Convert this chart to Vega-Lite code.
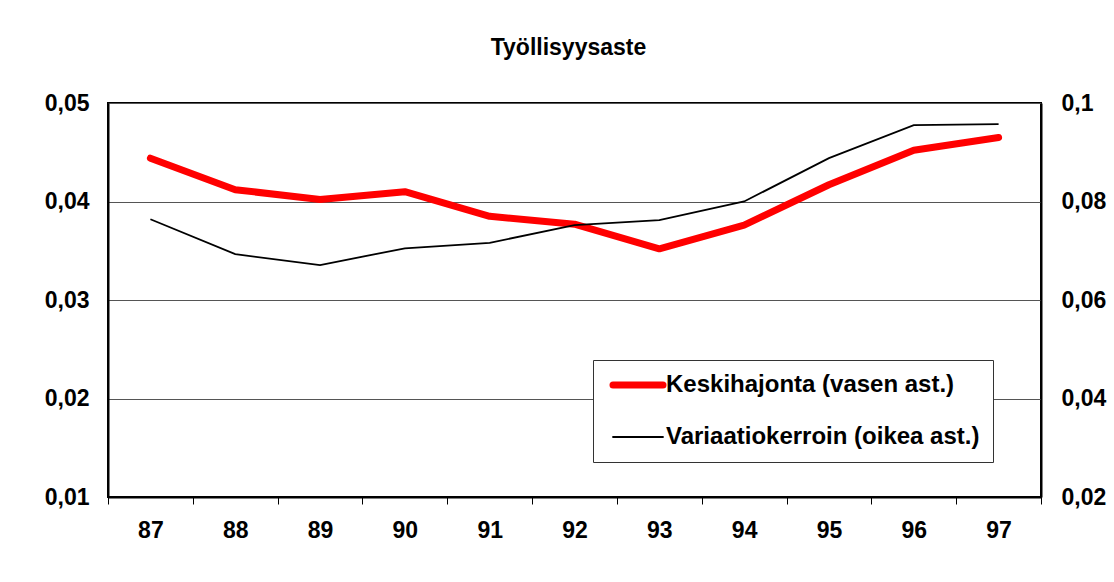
{
  "$schema": "https://vega.github.io/schema/vega-lite/v6.json",
  "width": 933,
  "height": 394,
  "autosize": {"type": "none"},
  "padding": {"left": 108, "top": 103, "right": 73, "bottom": 85},
  "background": "white",
  "title": {
    "text": "Työllisyysaste",
    "frame": "group",
    "anchor": "middle",
    "dx": -6,
    "offset": 14,
    "baseline": "alphabetic",
    "fontSize": 23,
    "font": "Liberation Sans",
    "fontWeight": "bold",
    "color": "black"
  },
  "data": {
    "values": [
      {"year": "87", "series": "Keskihajonta (vasen ast.)", "value": 0.0444},
      {"year": "88", "series": "Keskihajonta (vasen ast.)", "value": 0.0412},
      {"year": "89", "series": "Keskihajonta (vasen ast.)", "value": 0.0402},
      {"year": "90", "series": "Keskihajonta (vasen ast.)", "value": 0.0410},
      {"year": "91", "series": "Keskihajonta (vasen ast.)", "value": 0.0385},
      {"year": "92", "series": "Keskihajonta (vasen ast.)", "value": 0.0377},
      {"year": "93", "series": "Keskihajonta (vasen ast.)", "value": 0.0352},
      {"year": "94", "series": "Keskihajonta (vasen ast.)", "value": 0.0376},
      {"year": "95", "series": "Keskihajonta (vasen ast.)", "value": 0.0417},
      {"year": "96", "series": "Keskihajonta (vasen ast.)", "value": 0.0452},
      {"year": "97", "series": "Keskihajonta (vasen ast.)", "value": 0.0465},
      {"year": "87", "series": "Variaatiokerroin (oikea ast.)", "value": 0.0764},
      {"year": "88", "series": "Variaatiokerroin (oikea ast.)", "value": 0.0693},
      {"year": "89", "series": "Variaatiokerroin (oikea ast.)", "value": 0.0671},
      {"year": "90", "series": "Variaatiokerroin (oikea ast.)", "value": 0.0705},
      {"year": "91", "series": "Variaatiokerroin (oikea ast.)", "value": 0.0716},
      {"year": "92", "series": "Variaatiokerroin (oikea ast.)", "value": 0.0752},
      {"year": "93", "series": "Variaatiokerroin (oikea ast.)", "value": 0.0762},
      {"year": "94", "series": "Variaatiokerroin (oikea ast.)", "value": 0.0800},
      {"year": "95", "series": "Variaatiokerroin (oikea ast.)", "value": 0.0888},
      {"year": "96", "series": "Variaatiokerroin (oikea ast.)", "value": 0.0955},
      {"year": "97", "series": "Variaatiokerroin (oikea ast.)", "value": 0.0957}
    ]
  },
  "encoding": {
    "x": {
      "field": "year",
      "type": "ordinal",
      "bandPosition": 0.5,
      "scale": {"type": "band", "paddingInner": 0, "paddingOuter": 0},
      "axis": {
        "title": null,
        "labelAngle": 0,
        "grid": false,
        "tickBand": "extent",
        "ticks": true,
        "tickSize": 7,
        "tickColor": "black",
        "tickWidth": 1,
        "domainColor": "black",
        "domainWidth": 2,
        "labelFont": "Liberation Sans",
        "labelFontSize": 23,
        "labelFontWeight": "bold",
        "labelColor": "black",
        "labelPadding": 15
      }
    }
  },
  "layer": [
    {
      "transform": [{"filter": "datum.series === 'Keskihajonta (vasen ast.)'"}],
      "mark": {"type": "line", "strokeWidth": 7, "strokeCap": "round", "strokeJoin": "round"},
      "encoding": {
        "y": {
          "field": "value",
          "type": "quantitative",
          "scale": {"domain": [0.01, 0.05], "nice": false, "zero": false},
          "axis": {
            "orient": "left",
            "title": null,
            "values": [0.01, 0.02, 0.03, 0.04, 0.05],
            "labelExpr": "replace(format(datum.value, '.2~f'), '.', ',')",
            "grid": true,
            "gridColor": "#555555",
            "gridWidth": 1,
            "ticks": false,
            "tickSize": 0,
            "domainColor": "black",
            "domainWidth": 2,
            "labelFont": "Liberation Sans",
            "labelFontSize": 23,
            "labelFontWeight": "bold",
            "labelColor": "black",
            "labelPadding": 19
          }
        },
        "color": {
          "field": "series",
          "type": "nominal",
          "scale": {
            "domain": ["Keskihajonta (vasen ast.)", "Variaatiokerroin (oikea ast.)"],
            "range": ["#ff0000", "#000000"]
          },
          "legend": {
            "orient": "none",
            "legendX": 485,
            "legendY": 257,
            "title": null,
            "direction": "vertical",
            "symbolType": "stroke",
            "symbolSize": 2500,
            "symbolOffset": 20,
            "labelFont": "Liberation Sans",
            "labelFontSize": 24,
            "labelFontWeight": "bold",
            "labelColor": "black",
            "labelLimit": 500,
            "strokeColor": "#333333",
            "fillColor": "white",
            "padding": 13,
            "rowPadding": 26,
            "labelOffset": 16,
            "encode": {
              "symbols": {
                "update": {
                  "strokeWidth": {"signal": "datum.value === 'Keskihajonta (vasen ast.)' ? 7 : 1.8"},
                  "strokeCap": {"value": "round"}
                }
              }
            }
          }
        }
      }
    },
    {
      "transform": [{"filter": "datum.series === 'Variaatiokerroin (oikea ast.)'"}],
      "mark": {"type": "line", "strokeWidth": 1.8},
      "encoding": {
        "y": {
          "field": "value",
          "type": "quantitative",
          "scale": {"domain": [0.02, 0.1], "nice": false, "zero": false},
          "axis": {
            "orient": "right",
            "title": null,
            "values": [0.02, 0.04, 0.06, 0.08, 0.1],
            "labelExpr": "replace(format(datum.value, '.2~f'), '.', ',')",
            "grid": false,
            "ticks": false,
            "tickSize": 0,
            "domainColor": "black",
            "domainWidth": 2,
            "labelFont": "Liberation Sans",
            "labelFontSize": 23,
            "labelFontWeight": "bold",
            "labelColor": "black",
            "labelPadding": 20
          }
        },
        "color": {"field": "series", "type": "nominal"}
      }
    }
  ],
  "resolve": {"scale": {"y": "independent"}},
  "config": {
    "view": {"stroke": "black", "strokeWidth": 2}
  }
}
